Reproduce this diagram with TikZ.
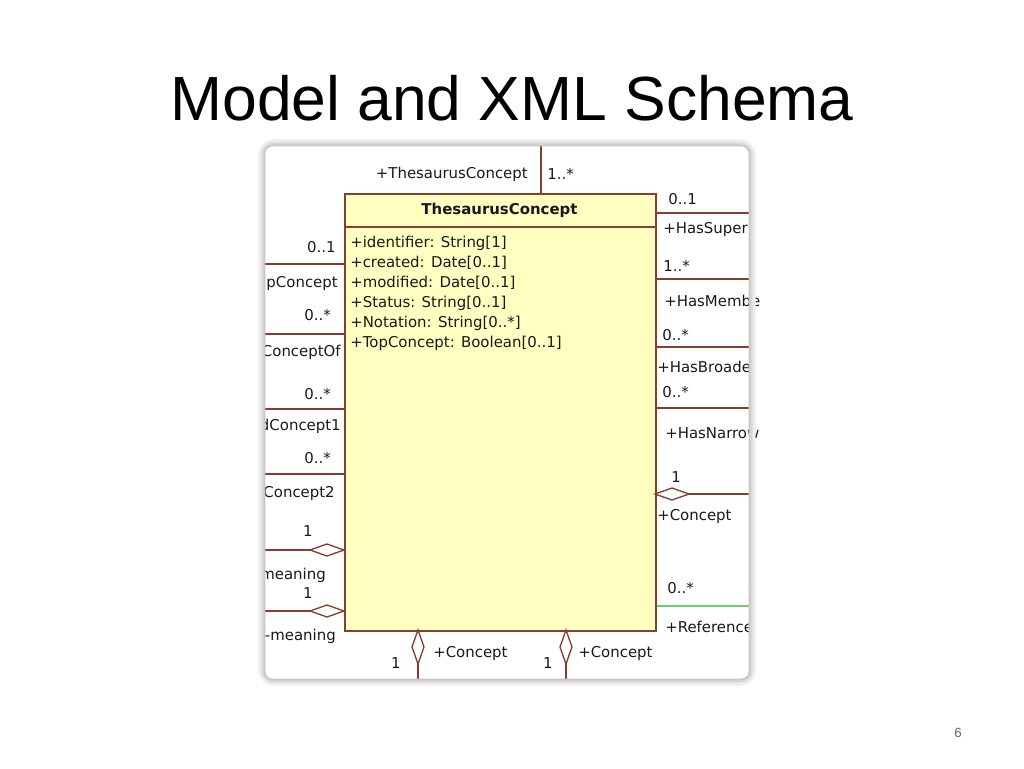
\documentclass[tikz,border=0pt]{standalone}
\usepackage{fontspec}
\setmainfont{Liberation Sans}
\newfontfamily\umlfont{DejaVu Sans}
\definecolor{uml}{RGB}{135,62,45}
\definecolor{umlfill}{RGB}{255,255,194}
\definecolor{refgreen}{RGB}{110,205,110}
\begin{document}
\begin{tikzpicture}[x=0.75pt,y=-0.75pt,
  lbl/.style={font=\umlfont\fontsize{11.2}{13}\selectfont, inner sep=0pt, text=black!90},
  lblL/.style={lbl, anchor=east},
  lblR/.style={lbl, anchor=west},
  ln/.style={draw=uml, line width=1.1pt},
  dia/.style={draw=uml, line width=1pt, fill=white}]
\useasboundingbox (0,0) rectangle (1024,768);
\node[font=\fontsize{46.8}{52}\selectfont, inner sep=0pt] (title) at (512,98) {Model and XML Schema};
\node[font=\fontsize{10}{12}\selectfont, text=black!60, inner sep=0pt] (page) at (958,733) {6};

% class box
\node[draw=uml, line width=1.3pt, fill=umlfill, anchor=north west, inner sep=0pt,
      minimum width=233.25pt, minimum height=327.75pt] (cls) at (344,193) {};
\coordinate (hl) at (344,227);
\coordinate (hr) at (655,227);
\draw[ln] (hl) -- (hr);
\node[lbl, font=\umlfont\fontsize{11.2}{13}\selectfont\bfseries] (hdr) at (499.5,210) {ThesaurusConcept};
\foreach \t [count=\i from 0] in {{+identifier: String[1]},{+created: Date[0..1]},{+modified: Date[0..1]},{+Status: String[0..1]},{+Notation: String[0..*]},{+TopConcept: Boolean[0..1]}}
  \node[lblR] (attr\i) at (350,{243+20*\i}) {\t};

% top connector
\coordinate (topEnd) at (541,142);
\coordinate (topAt) at (541,193);
\draw[ln] (topEnd) -- (topAt);
\node[lblL] (topR) at (528,174) {+ThesaurusConcept};
\node[lblR] (topM) at (547,174) {1..*};

% right connectors
\foreach \y [count=\i] in {213,279,347,408}{
  \coordinate (rA\i) at (655,\y);
  \coordinate (rB\i) at (750,\y);
  \draw[ln] (rA\i) -- (rB\i);
}
\node[lblR] (rm1) at (668,199) {0..1};
\node[lblR] (rr1) at (663,230) {+HasSuper};
\node[lblR] (rm2) at (663,266) {1..*};
\node[lblR] (rr2) at (664,301) {+HasMembe};
\node[lblR] (rm3) at (662,335) {0..*};
\node[lblR] (rr3) at (657,367) {+HasBroade};
\node[lblR] (rm4) at (662,392) {0..*};
\node[lblR] (rr4) at (665,433) {+HasNarrow};

% right aggregation
\coordinate (rA5) at (655,494);
\coordinate (rB5) at (750,494);
\draw[ln] (rB5) -- (rA5);
\draw[dia] (655,494) -- (672,488) -- (689,494) -- (672,500) -- cycle;
\node[lblR] (rm5) at (671,477) {1};
\node[lblR] (rr5) at (657,517) {+Concept};

% green reference line
\coordinate (gA) at (657,606);
\coordinate (gB) at (750,606);
\draw[draw=refgreen, line width=1.3pt] (gA) -- (gB);
\node[lblR] (gm) at (667,588) {0..*};
\node[lblR] (gr) at (665,627) {+Reference};

% left connectors
\foreach \y [count=\i] in {264,334,409,474}{
  \coordinate (lA\i) at (264,\y);
  \coordinate (lB\i) at (344,\y);
  \draw[ln] (lA\i) -- (lB\i);
}
\node[lblL] (lm1) at (336,247) {0..1};
\node[lblL] (lr1) at (338,284) {pConcept};
\node[lblL] (lm2) at (331,315) {0..*};
\node[lblL] (lr2) at (341,352) {ConceptOf};
\node[lblL] (lm3) at (331,394) {0..*};
\node[lblL] (lr3) at (341,426) {dConcept1};
\node[lblL] (lm4) at (331,458) {0..*};
\node[lblL] (lr4) at (335,494) {Concept2};

% left aggregations
\coordinate (lA5) at (264,550);
\coordinate (lB5) at (344,550);
\draw[ln] (lA5) -- (lB5);
\draw[dia] (344,550) -- (327,544) -- (310,550) -- (327,556) -- cycle;
\node[lblL] (lm5) at (313,531) {1};
\node[lblL] (lr5) at (326,575) {meaning};
\coordinate (lA6) at (264,611);
\coordinate (lB6) at (344,611);
\draw[ln] (lA6) -- (lB6);
\draw[dia] (344,611) -- (327,605) -- (310,611) -- (327,617) -- cycle;
\node[lblL] (lm6) at (313,593) {1};
\node[lblL] (lr6) at (336,636) {-meaning};

% bottom aggregations
\foreach \x [count=\i] in {418,566}{
  \coordinate (bA\i) at (\x,630);
  \coordinate (bB\i) at (\x,680);
  \draw[ln] (bA\i) -- (bB\i);
  \draw[dia] (\x,630) -- (\x+6,647) -- (\x,664) -- (\x-6,647) -- cycle;
}
\node[lblL] (bm1) at (401,663) {1};
\node[lblR] (br1) at (433,653) {+Concept};
\node[lblL] (bm2) at (553,663) {1};
\node[lblR] (br2) at (578,653) {+Concept};

% screenshot frame with soft shadow
\draw[line width=4pt, draw=black!7, rounded corners=10] (261,142) rectangle (753,683);
\draw[line width=2.5pt, draw=black!15, rounded corners=8] (263,144) rectangle (751,681);
\draw[line width=1.2pt, draw=black!22, rounded corners=6] (264.5,145.5) rectangle (749.5,679.5);
\end{tikzpicture}
\end{document}
